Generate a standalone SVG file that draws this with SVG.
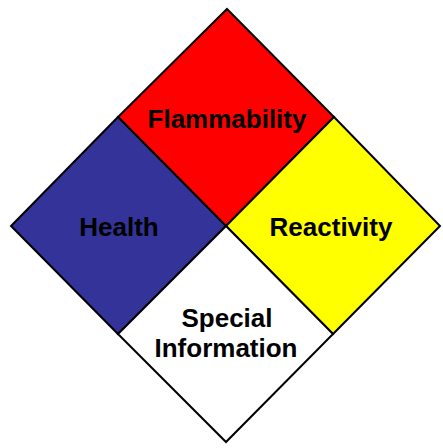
<svg xmlns="http://www.w3.org/2000/svg" width="443" height="448" viewBox="0 0 443 448">
<style>
.q{stroke:#000;stroke-width:2;stroke-linejoin:miter}
.t{font-family:"Liberation Sans",Arial,sans-serif;font-weight:bold;font-size:26px;fill:#000;text-anchor:middle}
</style>
<rect width="443" height="448" fill="#fff"/>
<g id="flammability">
<polygon class="q" fill="#ff0000" points="227,9 334,117 226,226 118,117"/>
<text class="t" x="227" y="128">Flammability</text>
</g>
<g id="health">
<polygon class="q" fill="#333399" points="118,117 226,226 118,334 11,226"/>
<text class="t" x="119" y="236">Health</text>
</g>
<g id="reactivity">
<polygon class="q" fill="#ffff00" points="334,117 440,226 333,334 226,226"/>
<text class="t" x="331" y="236">Reactivity</text>
</g>
<g id="special">
<polygon class="q" fill="#ffffff" points="226,226 333,334 226,442 118,334"/>
<text class="t" x="227" y="327">Special</text>
<text class="t" x="226" y="357">Information</text>
</g>
<g id="connectors"/>
</svg>
